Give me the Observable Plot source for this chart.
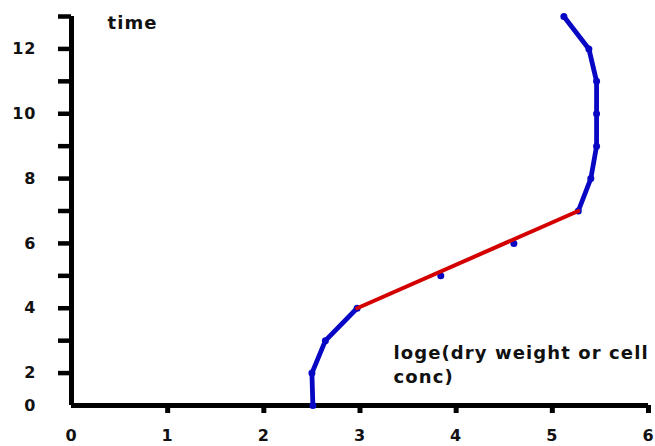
<!DOCTYPE html>
<html><head><meta charset="utf-8">
<script src="https://cdn.jsdelivr.net/npm/d3@7"></script>
<script src="https://cdn.jsdelivr.net/npm/@observablehq/plot@0.6"></script>
<style>
body{margin:0;background:#fff;}
#chart svg{display:block;}
#chart svg text{letter-spacing:1px;}
</style></head><body><div id="chart"></div>
<script>
// Observed series (time index vs loge concentration)
const times    = [1, 2, 3, 4, 5, 6, 7, 8, 9, 10, 11, 12, 13];
const logConc  = [2.51, 2.5, 2.64, 2.97, 3.84, 4.60, 5.27, 5.40, 5.46, 5.46, 5.46, 5.38, 5.12];
// Growth phase each point belongs to (lag / exponential / stationary)
const phase    = ["lag", "lag", "lag", "lag", "exp", "exp", "stat", "stat", "stat", "stat", "stat", "stat", "stat"];
// Exponential-phase fit line
const fitTimes = [4, 7];
const fitConc  = [2.97, 5.27];
// Axis ticks and labels
const xTicks      = [0, 1, 2, 3, 4, 5, 6];
const xTickMarks  = [1, 2, 3, 4, 5, 6];
const yTickMarks  = [2, 3, 4, 5, 6, 7, 8, 9, 10, 11, 12, 13];
const yTickValues = [1, 2, 4, 6, 8, 10, 12];
const yTickLabels = ["0", "2", "4", "6", "8", "10", "12"];
const yTitle = "time";
const xTitle = "loge(dry weight or cell\nconc)";

const series = times.map((t, i) => ({time: t, conc: logConc[i], phase: phase[i]}));
const fit = fitTimes.map((t, i) => ({time: t, conc: fitConc[i]}));

const blue = "#0808c4";
const red = "#d40000";

const chart = Plot.plot({
  width: 655, height: 446,
  marginLeft: 71, marginRight: 7, marginTop: 16, marginBottom: 41,
  style: {fontFamily: "DejaVu Sans", fontWeight: "bold", color: "#111", background: "#fff", overflow: "visible"},
  x: {domain: [0, 6], label: null},
  y: {domain: [1, 13], label: null},
  marks: [
    Plot.axisX({ticks: xTickMarks, tickSize: 8, strokeWidth: 5, stroke: "#000", tickFormat: () => "", label: null}),
    Plot.axisX({ticks: xTicks, tickSize: 0, tickPadding: 24, fontSize: 16, fontWeight: "bold", tickFormat: d => String(d), label: null}),
    Plot.axisY({ticks: yTickMarks, tickSize: 13, strokeWidth: 4.5, stroke: "#000", tickFormat: () => "", label: null}),
    Plot.axisY({ticks: yTickValues, tickSize: 0, tickPadding: 35, fontSize: 16, fontWeight: "bold",
      tickFormat: d => yTickLabels[yTickValues.indexOf(d)], label: null}),
    Plot.ruleY([1], {stroke: "#000", strokeWidth: 5}),
    Plot.ruleX([0], {y1: 1, y2: 13, stroke: "#000", strokeWidth: 5}),
    Plot.line(series.filter(d => d.phase === "lag"), {x: "conc", y: "time", stroke: blue, strokeWidth: 4.8}),
    Plot.line(series.filter(d => d.phase === "stat"), {x: "conc", y: "time", stroke: blue, strokeWidth: 4.8}),
    Plot.dot(series, {x: "conc", y: "time", fill: blue, r: 3.5}),
    Plot.line(fit, {x: "conc", y: "time", stroke: red, strokeWidth: 4}),
    Plot.text([yTitle], {frameAnchor: "top-left", dx: 36, dy: 0, lineAnchor: "top", textAnchor: "start", fontSize: 18, fontWeight: "bold", fill: "#111"}),
    Plot.text([xTitle], {frameAnchor: "bottom-left", dx: 322, dy: -23, lineAnchor: "bottom", textAnchor: "start", fontSize: 18, fontWeight: "bold", lineHeight: 1.33, fill: "#111"})
  ]
});
document.getElementById("chart").appendChild(chart);
d3.select(chart).selectAll("text").filter(function(){ return this.textContent.startsWith("loge") || this.textContent === "time"; })
  .style("letter-spacing", "1.1px");
</script></body></html>
